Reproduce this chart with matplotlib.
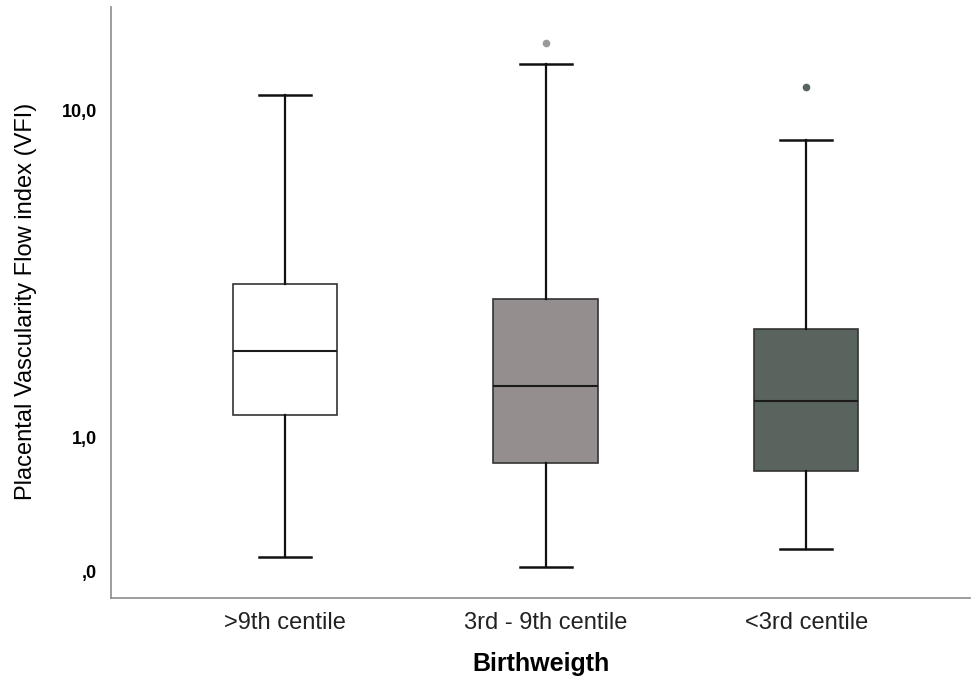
import matplotlib.pyplot as plt

# box statistics (log-scaled VFI)
groups = ['>9th centile', '3rd - 9th centile', '<3rd centile']
whisker_low = [0.428, 0.399, 0.453]
q1 = [1.168, 0.832, 0.787]
median = [1.84, 1.43, 1.29]
q3 = [2.95, 2.65, 2.14]
whisker_high = [11.2, 13.9, 8.15]
outliers = [[], [16.1], [11.8]]

box_colors = ['#ffffff', '#948f8e', '#5a645e']
flier_colors = ['#999999', '#999999', '#5a645e']

ytick_vals = [0.388, 1.0, 10.0]
ytick_labels = [',0', '1,0', '10,0']

plt.rcParams['font.family'] = ['Liberation Sans', 'DejaVu Sans']

fig = plt.figure(figsize=(9.71, 6.82), dpi=100)
ax = fig.add_axes([111 / 971, 84 / 682, 859 / 971, 591 / 682])

stats = []
for i in range(len(groups)):
    stats.append({'whislo': whisker_low[i], 'q1': q1[i], 'med': median[i],
                  'q3': q3[i], 'whishi': whisker_high[i], 'fliers': outliers[i]})

bp = ax.bxp(stats, positions=range(len(groups)), widths=0.40, capwidths=0.2,
            patch_artist=True, showfliers=False,
            boxprops=dict(edgecolor='#333333', linewidth=1.2),
            medianprops=dict(color='#1a1a1a', linewidth=1.5),
            whiskerprops=dict(color='#111111', linewidth=1.6),
            capprops=dict(color='#111111', linewidth=1.8))
for patch, c in zip(bp['boxes'], box_colors):
    patch.set_facecolor(c)

for i, pts in enumerate(outliers):
    if pts:
        ax.plot([i] * len(pts), pts, 'o', color=flier_colors[i], markersize=5.5,
                markeredgewidth=0)

ax.set_yscale('log')
ax.set_ylim(0.321, 20.8)
ax.set_xlim(-0.667, 2.628)
ax.yaxis.set_minor_locator(plt.NullLocator())
ax.set_yticks(ytick_vals)
ax.set_yticklabels(ytick_labels, fontweight='bold', fontsize=13)
ax.set_xticks(range(len(groups)))
ax.set_xticklabels(groups, fontsize=17, color='#222222')
ax.tick_params(axis='both', length=0)
ax.tick_params(axis='x', pad=10)
ax.tick_params(axis='y', pad=10)

for s in ['top', 'right']:
    ax.spines[s].set_visible(False)
for s in ['left', 'bottom']:
    ax.spines[s].set_color('#8c8c8c')
    ax.spines[s].set_linewidth(1.2)

ax.set_xlabel('Birthweigth', fontsize=18, fontweight='bold')
ax.xaxis.set_label_coords(0.5, -0.112)
ax.xaxis.label.set_va('center')
ax.set_ylabel('Placental Vascularity Flow index (VFI)', fontsize=17)
ax.yaxis.set_label_coords(-0.086, 0.5025)

plt.savefig('out.png', dpi=100)
